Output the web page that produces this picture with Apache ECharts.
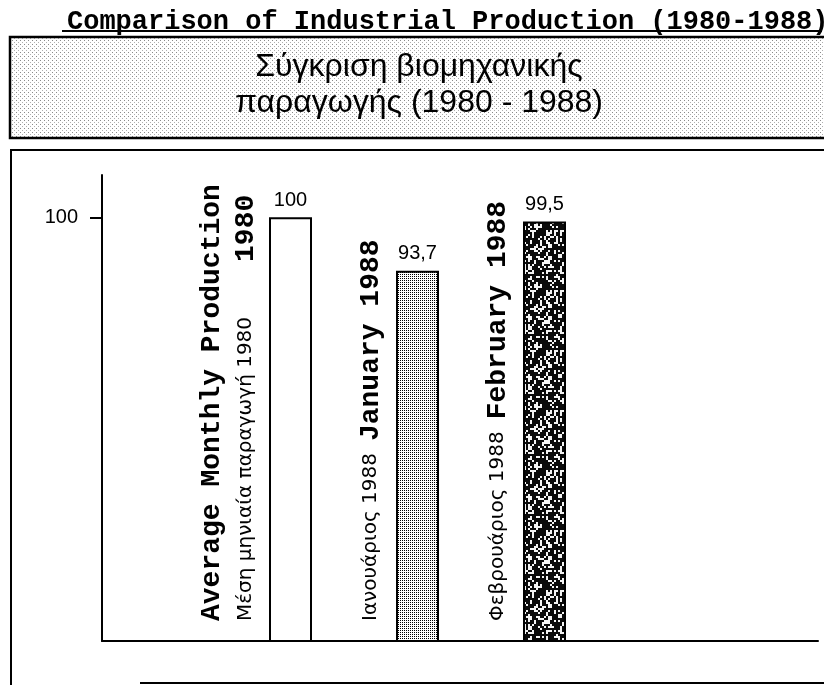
<!DOCTYPE html>
<html><head><meta charset="utf-8">
<script src="https://cdn.jsdelivr.net/npm/echarts@6/dist/echarts.min.js"></script>
<style>html,body{margin:0;padding:0;background:#fff}#c{width:824px;height:685px}</style>
</head><body><div id="c"></div>
<script>
// ---- data ----
const titleEn = 'Comparison of Industrial Production (1980-1988)';
const titleGr = ['Σύγκριση βιομηχανικής', 'παραγωγής (1980 - 1988)'];
const categoriesGr = ['Μέση μηνιαία παραγωγή 1980', 'Ιανουάριος 1988', 'Φεβρουάριος 1988'];
const categoriesEn = ['Average Monthly Production\n1980', 'January 1988', 'February 1988'];
const values = [100, 93.7, 99.5];
const yTickValues = [100];

// ---- textures (style only) ----
function makeDots(size, dots) {
  const c = document.createElement('canvas'); c.width = size; c.height = size;
  const g = c.getContext('2d'); g.fillStyle = '#fff'; g.fillRect(0, 0, size, size);
  dots.forEach(d => { g.fillStyle = d[2]; g.fillRect(d[0], d[1], 1, 1); });
  return c;
}
function makeNoise() {
  const s = 60, c = document.createElement('canvas'); c.width = s; c.height = s;
  const g = c.getContext('2d'); g.fillStyle = '#0a0a0a'; g.fillRect(0, 0, s, s);
  g.fillStyle = '#f4f4f4';
  for (let y = 0; y < s; y += 2) for (let x = 0; x < s; x += 2) {
    let h = (x * 374761393 + y * 668265263) | 0;
    h = (h ^ (h >>> 13)) * 1274126177 | 0; h = (h ^ (h >>> 16)) & 1023;
    if (h < 330) g.fillRect(x, y, 2, 2);
  }
  return c;
}
const grayPat = { image: makeDots(2, [[0, 0, '#000']]), repeat: 'repeat' };
const darkPat = { image: makeNoise(), repeat: 'repeat' };
const headPat = { image: makeDots(4, [[0, 0, '#8a8a8a'], [2, 2, '#b0b0b0']]), repeat: 'repeat' };
const fills = ['#ffffff', grayPat, darkPat];
const labelDx = [-40, -25, -25];

function catLabel(i) {
  const en = categoriesEn[i].split('\n');
  if (en.length > 1) return '{b|' + en[0] + '}\n{g|' + categoriesGr[i] + '}{sp|}{b|' + en[1] + '}';
  return '{g|' + categoriesGr[i] + '}{gap|}{b|' + en[0] + '}';
}

const chart = echarts.init(document.getElementById('c'), null, { renderer: 'canvas' });
chart.setOption({
  animation: false,
  backgroundColor: '#fff',
  title: [
    { text: titleEn, left: 62, top: 4,
      textStyle: { fontFamily: 'Liberation Mono', fontWeight: 'bold', fontSize: 27, color: '#000' } },
    { text: titleGr.join('\n'), left: 414, textAlign: 'center', top: 44,
      textStyle: { fontFamily: 'Liberation Sans', fontWeight: 'normal', fontSize: 32, lineHeight: 36, color: '#000' } }
  ],
  graphic: [
    { type: 'rect', shape: { x: 10, y: 37, width: 820, height: 101 },
      style: { fill: headPat, stroke: '#000', lineWidth: 2.5 }, z: -10 },
    { type: 'line', shape: { x1: 10, y1: 150, x2: 824, y2: 150 }, style: { stroke: '#000', lineWidth: 2 } },
    { type: 'line', shape: { x1: 11, y1: 150, x2: 11, y2: 685 }, style: { stroke: '#000', lineWidth: 2 } },
    { type: 'line', shape: { x1: 140, y1: 683, x2: 824, y2: 683 }, style: { stroke: '#000', lineWidth: 2 } },
    { type: 'line', shape: { x1: 62, y1: 31, x2: 822, y2: 31 }, style: { stroke: '#000', lineWidth: 2 } }
  ],
  grid: [
    { left: 227, right: 216, top: 175, bottom: 44 },
    { left: 102, right: 6, top: 175, bottom: 44 }
  ],
  xAxis: [
    { type: 'category', gridIndex: 0, data: categoriesEn, show: false },
    { type: 'value', gridIndex: 1, min: 0, max: 1,
      axisLine: { show: true, lineStyle: { color: '#000', width: 2 } },
      axisTick: { show: false }, axisLabel: { show: false }, splitLine: { show: false } }
  ],
  yAxis: [
    { type: 'value', gridIndex: 0, min: 50, max: 105, offset: 125,
      axisLine: { show: true, lineStyle: { color: '#000', width: 2 } },
      axisTick: { show: true, customValues: yTickValues, length: 12, lineStyle: { color: '#000', width: 2 } },
      axisLabel: { show: true, customValues: yTickValues, margin: 24, color: '#000',
        fontFamily: 'Liberation Sans', fontSize: 20 },
      splitLine: { show: false } },
    { type: 'value', gridIndex: 1, min: 0, max: 1, show: false }
  ],
  series: [
    { type: 'bar', xAxisIndex: 0, yAxisIndex: 0, barWidth: 43, z: 3,
      data: values.map((v, i) => ({
        value: v,
        itemStyle: { color: fills[i], borderColor: '#000', borderWidth: 2 },
        label: { show: true, formatter: catLabel(i), position: [labelDx[i], '100%'], offset: [21, 0],
          rotate: 90, align: 'left', verticalAlign: 'middle' }
      })),
      label: {
        rich: {
          b: { fontFamily: 'Liberation Mono', fontWeight: 'bold', fontSize: 28, lineHeight: 34, color: '#000', verticalAlign: 'middle' },
          g: { fontFamily: 'DejaVu Sans', fontSize: 20, lineHeight: 34, color: '#000', verticalAlign: 'middle' },
          sp: { width: 55 },
          gap: { width: 12 }
        }
      }
    },
    { type: 'bar', xAxisIndex: 0, yAxisIndex: 0, barWidth: 43, barGap: '-100%', z: 2,
      data: values, itemStyle: { color: 'rgba(0,0,0,0)' },
      label: { show: true, position: 'top', distance: 7, color: '#000',
        fontFamily: 'Liberation Sans', fontSize: 20,
        formatter: p => String(p.value).replace('.', ',') }
    }
  ]
});
</script></body></html>
